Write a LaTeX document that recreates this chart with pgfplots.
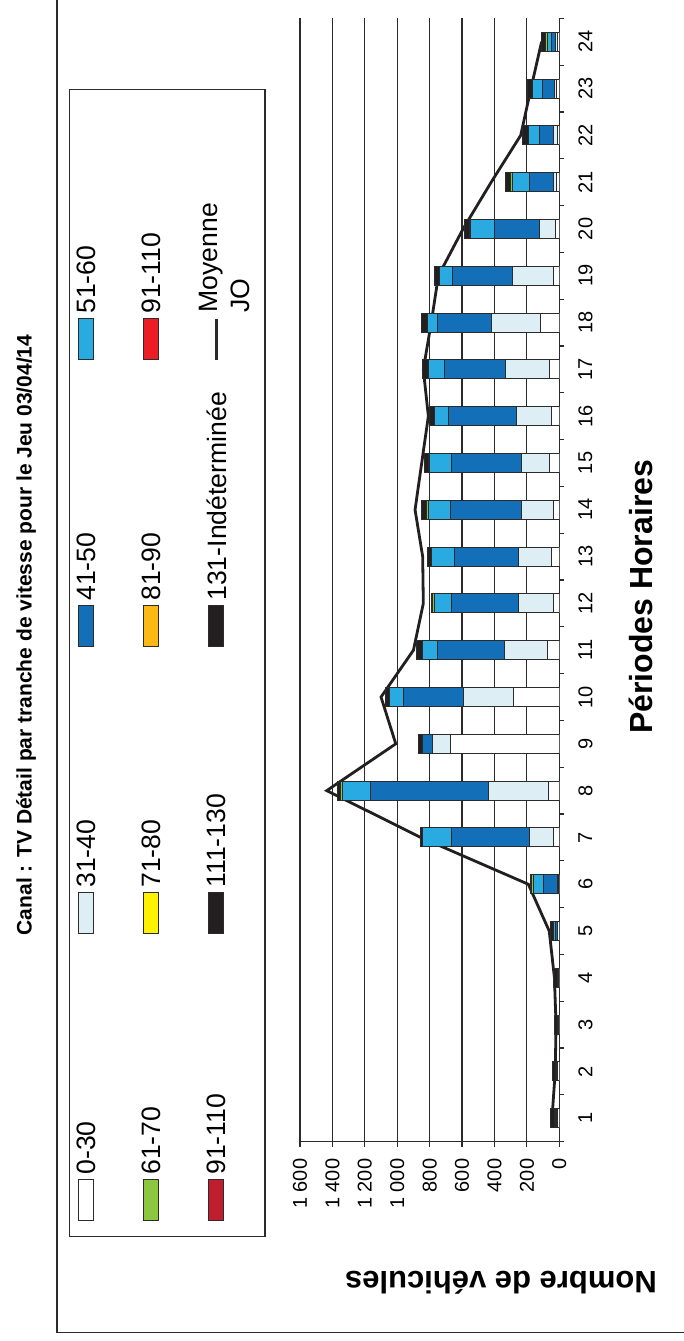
\documentclass[border=0pt]{standalone}
\usepackage{graphicx}
\usepackage{fontspec}
\setmainfont{Liberation Sans}
\usepackage{pgfplots}
\pgfplotsset{compat=1.18}

% speed classes
\definecolor{vA}{HTML}{FFFFFF}   % 0-30
\definecolor{vB}{HTML}{DDEEF5}   % 31-40
\definecolor{vC}{HTML}{1370B8}   % 41-50
\definecolor{vD}{HTML}{29ABE2}   % 51-60
\definecolor{vE}{HTML}{8DC63F}   % 61-70
\definecolor{vF}{HTML}{FFF200}   % 71-80
\definecolor{vG}{HTML}{FDB913}   % 81-90
\definecolor{vH}{HTML}{ED1C24}   % 91-110
\definecolor{vI}{HTML}{BE1E2D}   % 91-110
\definecolor{vJ}{HTML}{231F20}   % 111-130
\definecolor{vK}{HTML}{231F20}   % 131-Indeterminee
\definecolor{edge}{HTML}{2B2B2B}

\newcommand{\legfont}{\fontsize{13.3}{16}\selectfont}
\newcommand{\legbox}[4]{%
  \draw[draw=edge, line width=0.5pt, fill=#3] (#1,#2-3.75pt) rectangle (#1+20.5pt,#2+3.75pt);
  \node[anchor=west, inner sep=0pt, font=\legfont] at (#1+23pt,#2) {#4};
}

\begin{document}
\rotatebox{90}{%
\begin{tikzpicture}
\useasboundingbox (0,0) rectangle (670.5pt,342pt);

% frame of the chart area
\draw[edge, line width=0.7pt] (4.15pt,-5pt) -- (4.15pt,313.5pt) -- (680pt,313.5pt);

% title
\node[font=\bfseries\fontsize{10.5}{12}\selectfont] at (353pt,329pt)
  {Canal : TV D\'etail par tranche de vitesse pour le Jeu 03/04/14};

% legend
\draw[edge, line width=0.7pt] (52.15pt,209.5pt) rectangle (625.85pt,307.15pt);
\legbox{60pt}{298.75pt}{vA}{0-30}
\legbox{203.5pt}{298.75pt}{vB}{31-40}
\legbox{347pt}{298.75pt}{vC}{41-50}
\legbox{490.5pt}{298.75pt}{vD}{51-60}
\legbox{60pt}{266.25pt}{vE}{61-70}
\legbox{203.5pt}{266.25pt}{vF}{71-80}
\legbox{347pt}{266.25pt}{vG}{81-90}
\legbox{490.5pt}{266.25pt}{vH}{91-110}
\legbox{60pt}{233.75pt}{vI}{91-110}
\legbox{203.5pt}{233.75pt}{vJ}{111-130}
\legbox{347pt}{233.75pt}{vK}{131-Ind\'etermin\'ee}
\draw[edge, line width=1.4pt] (490.5pt,233.75pt) -- (511pt,233.75pt);
\node[anchor=north west, align=left, inner sep=0pt, font=\legfont] at (514pt,242.5pt) {Moyenne\\JO};

\begin{axis}[
  at={(99.65pt,62.35pt)}, anchor=south west,
  scale only axis, width=561.7pt, height=129.65pt,
  ybar stacked, bar width=9.5pt,
  xmin=0.5, xmax=24.5, ymin=0, ymax=1600,
  xtick={0.5,1.5,...,24.5},
  x tick label as interval,
  xticklabels={1,2,3,4,5,6,7,8,9,10,11,12,13,14,15,16,17,18,19,20,21,22,23,24},
  ytick={0,200,...,1600},
  ymajorgrids, grid style={edge, line width=0.6pt},
  axis x line*=bottom, axis y line*=left,
  axis line style={-, edge, line width=0.7pt},
  tick align=outside, major tick length=2.5pt,
  tick style={edge, line width=0.6pt},
  /pgf/number format/1000 sep={\ },
  /pgf/number format/assume math mode=true,
  ticklabel style={font=\fontsize{10}{12}\selectfont},
  yticklabel style={xshift=-2.5pt},
  xticklabel style={yshift=-3.5pt},
  xlabel={P\'eriodes Horaires},
  xlabel style={font=\bfseries\fontsize{16}{19}\selectfont,
    at={(axis description cs:0.485,-0.315)}, anchor=center},
  ylabel={Nombre de v\'ehicules},
  ylabel style={font=\bfseries\fontsize{15.5}{18}\selectfont,
    at={(axis description cs:-0.1258,0.225)}, anchor=center},
  every axis plot/.append style={draw=edge, line width=0.5pt},
]
% 0-30
\addplot[fill=vA] coordinates {(1,10)(2,8)(3,4)(4,5)(5,8)(6,4)(7,37)(8,64)(9,674)(10,284)(11,72)(12,37)(13,47)(14,37)(15,58)(16,47)(17,58)(18,115)(19,37)(20,21)(21,16)(22,12)(23,16)(24,10)};
% 31-40
\addplot[fill=vB] coordinates {(1,5)(2,4)(3,2)(4,3)(5,5)(6,6)(7,144)(8,372)(9,107)(10,308)(11,269)(12,214)(13,206)(14,195)(15,174)(16,216)(17,271)(18,302)(19,253)(20,102)(21,17)(22,25)(23,15)(24,11)};
% 41-50
\addplot[fill=vC] coordinates {(1,8)(2,6)(3,3)(4,4)(5,12)(6,85)(7,483)(8,726)(9,62)(10,370)(11,409)(12,413)(13,391)(14,442)(15,432)(16,418)(17,382)(18,333)(19,370)(20,274)(21,148)(22,86)(23,74)(24,26)};
% 51-60
\addplot[fill=vD] coordinates {(1,4)(2,3)(3,0)(4,2)(5,8)(6,62)(7,179)(8,176)(9,0)(10,87)(11,93)(12,103)(13,143)(14,134)(15,134)(16,86)(17,97)(18,64)(19,82)(20,148)(21,109)(22,68)(23,59)(24,25)};
% 61-70
\addplot[fill=vE] coordinates {(1,0)(2,0)(3,0)(4,0)(5,2)(6,12)(7,0)(8,15)(9,0)(10,0)(11,0)(12,16)(13,0)(14,14)(15,12)(16,0)(17,0)(18,0)(19,0)(20,12)(21,14)(22,0)(23,0)(24,12)};
% 131-Indeterminee
\addplot[fill=vK] coordinates {(1,30)(2,20)(3,18)(4,23)(5,22)(6,8)(7,16)(8,16)(9,27)(10,24)(11,37)(12,5)(13,25)(14,27)(15,23)(16,31)(17,35)(18,35)(19,31)(20,29)(21,29)(22,35)(23,33)(24,25)};
% Moyenne JO
\addplot[stack plots=false, sharp plot, no marks, draw=vJ, line width=1.4pt]
  coordinates {(1,45)(2,25)(3,20)(4,30)(5,62)(6,191)(7,855)(8,1435)(9,1009)(10,1100)(11,900)(12,839)(13,843)(14,890)(15,849)(16,808)(17,839)(18,790)(19,746)(20,594)(21,420)(22,238)(23,175)(24,109)};
\end{axis}
\end{tikzpicture}%
}
\end{document}
